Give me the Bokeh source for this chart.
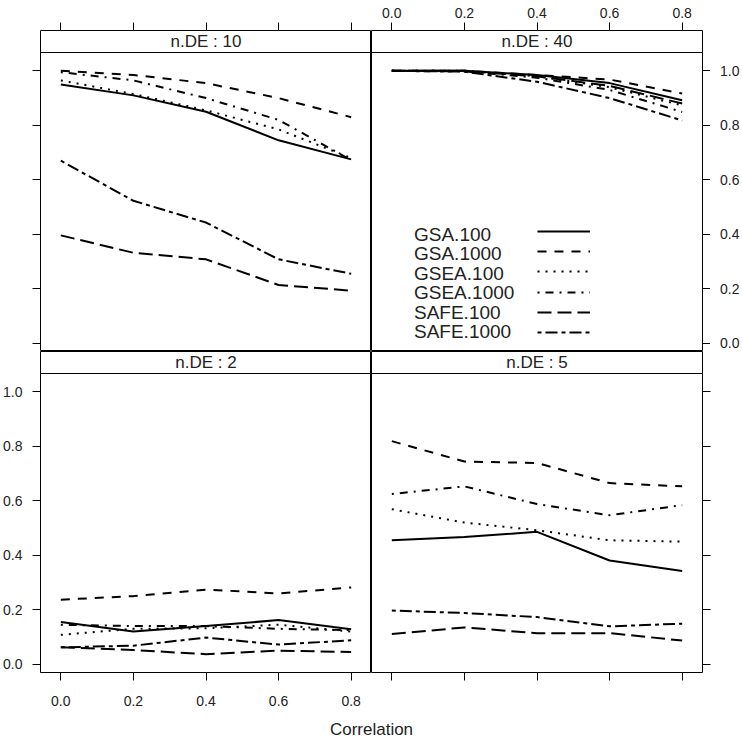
from bokeh.plotting import figure
from bokeh.models import (LinearAxis, FixedTicker, PrintfTickFormatter, CustomJSTickFormatter,
                          Range1d, Span, Label, Legend, LegendItem, ColumnDataSource)
from bokeh.layouts import row, column
from bokeh.embed import file_html
from bokeh.resources import INLINE

# ---------------- data ----------------
corr = [0.0, 0.2, 0.4, 0.6, 0.8]
methods = ["GSA.100", "GSA.1000", "GSEA.100", "GSEA.1000", "SAFE.100", "SAFE.1000"]
x_ticks = [0.0, 0.2, 0.4, 0.6, 0.8]
y_ticks = [0.0, 0.2, 0.4, 0.6, 0.8, 1.0]
panel_labels = ["n.DE : 10", "n.DE : 40", "n.DE : 2", "n.DE : 5"]
x_label = "Correlation"

# n.DE = 10
de10_gsa100 = [0.950, 0.910, 0.850, 0.745, 0.675]
de10_gsa1000 = [1.000, 0.985, 0.955, 0.900, 0.830]
de10_gsea100 = [0.965, 0.915, 0.855, 0.785, 0.680]
de10_gsea1000 = [0.995, 0.965, 0.900, 0.820, 0.672]
de10_safe100 = [0.396, 0.332, 0.308, 0.214, 0.193]
de10_safe1000 = [0.670, 0.523, 0.443, 0.308, 0.255]

# n.DE = 40
de40_gsa100 = [1.000, 1.000, 0.985, 0.955, 0.892]
de40_gsa1000 = [1.000, 1.000, 0.985, 0.968, 0.917]
de40_gsea100 = [1.000, 1.000, 0.980, 0.940, 0.873]
de40_gsea1000 = [1.000, 0.998, 0.975, 0.930, 0.849]
de40_safe100 = [1.000, 1.000, 0.980, 0.945, 0.880]
de40_safe1000 = [1.000, 0.997, 0.960, 0.900, 0.818]

# n.DE = 2
de2_gsa100 = [0.155, 0.120, 0.140, 0.162, 0.128]
de2_gsa1000 = [0.237, 0.250, 0.274, 0.260, 0.282]
de2_gsea100 = [0.108, 0.130, 0.132, 0.145, 0.120]
de2_gsea1000 = [0.145, 0.140, 0.140, 0.130, 0.125]
de2_safe100 = [0.062, 0.052, 0.037, 0.050, 0.045]
de2_safe1000 = [0.062, 0.068, 0.098, 0.072, 0.088]

# n.DE = 5
de5_gsa100 = [0.455, 0.467, 0.486, 0.381, 0.342]
de5_gsa1000 = [0.819, 0.744, 0.739, 0.665, 0.653]
de5_gsea100 = [0.569, 0.520, 0.492, 0.455, 0.450]
de5_gsea1000 = [0.625, 0.653, 0.588, 0.547, 0.584]
de5_safe100 = [0.111, 0.135, 0.114, 0.114, 0.087]
de5_safe1000 = [0.197, 0.188, 0.173, 0.139, 0.149]

panels_data = [
    [de10_gsa100, de10_gsa1000, de10_gsea100, de10_gsea1000, de10_safe100, de10_safe1000],
    [de40_gsa100, de40_gsa1000, de40_gsea100, de40_gsea1000, de40_safe100, de40_safe1000],
    [de2_gsa100, de2_gsa1000, de2_gsea100, de2_gsea1000, de2_safe100, de2_safe1000],
    [de5_gsa100, de5_gsa1000, de5_gsea100, de5_gsea1000, de5_safe100, de5_safe1000],
]

# ---------------- style ----------------
FONT = "Liberation Sans"
TXT = "#222222"
DASHES = ["solid", "9 8", "2 6", "2 6 8 6", "14 6", "4 4 12 4"]
W, H = 742, 739
FW, FH = 331, 321          # frame size of each panel (strip included)
STRIP = 22                 # strip height in px
TICK = 8
LB, RB, TB, BB = 40, 40, 30, 42
LAB_H = H - TB - 2 * FH - BB
RLAB_W = W - LB - 2 * FW - TICK   # column holding the right-hand tick labels

# ranges (lattice-like 7% padding)
xmin, xmax = min(corr), max(corr)
xpad = 0.07 * (xmax - xmin)
xlo, xhi = xmin - xpad, xmax + xpad
allv = [v for pd in panels_data for s in pd for v in s]
ymin, ymax = min(allv), max(allv)
ypad = 0.07 * (ymax - ymin)
ylo, yhi = ymin - ypad, ymax + ypad
yend = yhi + (yhi - ylo) * STRIP / (FH - STRIP)

STANDOFF = {"above": 5, "below": 15, "left": 10, "right": 0}


def add_axis(p, side, ticks, labels, tick_out=TICK, standoff=None):
    ax = LinearAxis(ticker=FixedTicker(ticks=ticks), axis_line_color=None,
                    major_tick_line_color="black", major_tick_line_width=1,
                    major_tick_out=tick_out, major_tick_in=0, minor_tick_line_color=None,
                    major_label_text_font=FONT, major_label_text_font_size="14px",
                    major_label_text_color=TXT,
                    major_label_standoff=STANDOFF[side] if standoff is None else standoff)
    if labels:
        ax.formatter = PrintfTickFormatter(format="%.1f")
    else:
        ax.formatter = CustomJSTickFormatter(code="return ''")
    p.add_layout(ax, side)


def make_panel(idx, borders, axes):
    l, r, t, b = borders
    p = figure(frame_width=FW, frame_height=FH,
               min_border_left=l, min_border_right=r, min_border_top=t, min_border_bottom=b,
               x_range=Range1d(xlo, xhi), y_range=Range1d(ylo, yend),
               x_axis_location=None, y_axis_location=None,
               toolbar_location=None, output_backend="svg",
               background_fill_color="white", border_fill_color="white",
               outline_line_color="black", outline_line_width=1)
    p.grid.visible = False
    for side, labels in axes:
        ticks = x_ticks if side in ("above", "below") else y_ticks
        add_axis(p, side, ticks, labels)
    rends = []
    for m, s, d in zip(methods, panels_data[idx], DASHES):
        src = ColumnDataSource(dict(x=corr, y=s))
        rr = p.line("x", "y", source=src, line_color="black", line_width=2,
                    line_dash=d, line_cap="butt", line_join="round")
        rends.append(rr)
    # strip
    p.add_layout(Span(location=yhi, dimension="width", line_color="black", line_width=1))
    p.add_layout(Label(x=(xlo + xhi) / 2, y=(yhi + yend) / 2, text=panel_labels[idx],
                       text_align="center", text_baseline="middle",
                       text_font=FONT, text_font_size="17px", text_color=TXT))
    return p, rends


tl, _ = make_panel(0, (LB, 0, TB, 0), [("above", False), ("left", False)])
tr, tr_rends = make_panel(1, (0, TICK, TB, 0), [("above", True), ("right", False)])
bl, _ = make_panel(2, (LB, 0, 0, BB), [("left", True), ("below", True)])
br, _ = make_panel(3, (0, RB, 0, BB), [("below", False), ("right", False)])

# right-hand tick labels of the n.DE : 40 panel (left-aligned column right of the ticks)
rlab = figure(frame_width=1, frame_height=FH, min_border_left=RLAB_W - 1, min_border_right=0,
              min_border_top=TB, min_border_bottom=0,
              x_range=Range1d(0, 1), y_range=Range1d(ylo, yend),
              x_axis_location=None, y_axis_location=None,
              toolbar_location=None, output_backend="svg",
              outline_line_color=None, background_fill_alpha=0, border_fill_color="white")
rlab.grid.visible = False
add_axis(rlab, "left", y_ticks, True, tick_out=0, standoff=2)

# key inside the n.DE : 40 panel: one row per method, text then line sample
ROW_H = 24
common = dict(glyph_height=ROW_H, label_height=ROW_H, spacing=0, padding=0, margin=0,
              border_line_color=None, background_fill_alpha=0,
              label_text_font=FONT, label_text_font_size="19px", label_text_color=TXT,
              label_standoff=0)
n = len(methods)
for i, (m, r) in enumerate(zip(methods, tr_rends)):
    k = n - 1 - i
    text_c = 19 + k * 19.4      # row centre, px above the panel bottom
    line_c = 19 + k * 20.2
    tr.add_layout(Legend(items=[LegendItem(label=m, renderers=[r])],
                         location=(43, text_c - ROW_H / 2), glyph_width=0, **common), "center")
    tr.add_layout(Legend(items=[LegendItem(label=" ", renderers=[r])],
                         location=(166, line_c - ROW_H / 2), glyph_width=53, **common), "center")

# common x-axis title
lab = figure(width=W, height=LAB_H, x_range=Range1d(0, 1), y_range=Range1d(0, 1),
             min_border=0, x_axis_location=None, y_axis_location=None,
             toolbar_location=None, output_backend="svg", outline_line_color=None)
lab.grid.visible = False
lab.add_layout(Label(x=(LB + FW) / W, y=0.42, text=x_label,
                     text_align="center", text_baseline="middle",
                     text_font=FONT, text_font_size="17px", text_color=TXT))

layout = column(row(tl, tr, rlab, spacing=0), row(bl, br, spacing=0), lab, spacing=0)

open("out.html", "w").write(file_html(layout, INLINE))
